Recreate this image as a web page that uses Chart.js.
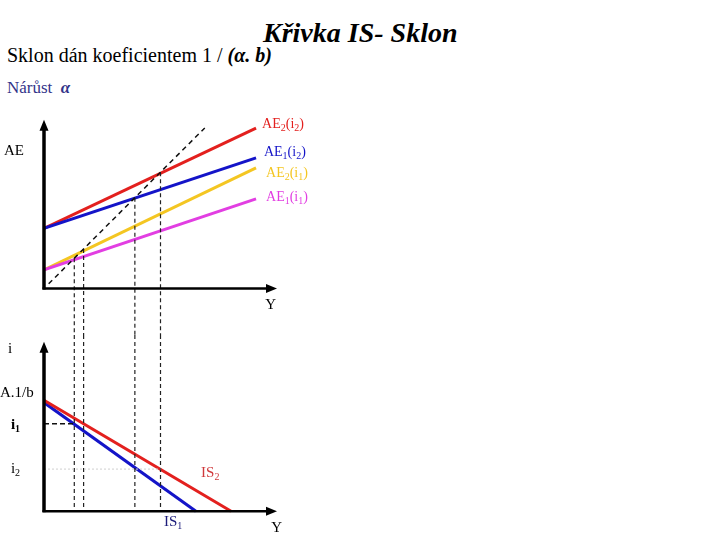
<!DOCTYPE html>
<html>
<head>
<meta charset="utf-8">
<script src="https://cdn.jsdelivr.net/npm/chart.js@4.4.0/dist/chart.umd.min.js"></script>
<style>
    body { margin: 0; width: 720px; height: 540px; background: #fff; position: relative; overflow: hidden;
           font-family: "Liberation Serif", "DejaVu Serif", serif; }
    .t { position: absolute; white-space: nowrap; line-height: 1; }
    canvas { position: absolute; }
</style>
</head>
<body>
<div class="t" style="left:263px;top:19px;font-size:28px;font-weight:bold;font-style:italic;">Křivka IS- Sklon</div>
<div class="t" style="left:7px;top:45px;font-size:20px;">Sklon dán koeficientem 1 / <b><i>(α. b)</i></b></div>
<div class="t" style="left:7px;top:79px;font-size:17px;color:#33338a;">Nárůst&nbsp; <b><i>α</i></b></div>

<canvas id="aeChart" width="330" height="228" style="left:0;top:107px;"></canvas>
<canvas id="isChart" width="330" height="205" style="left:0;top:335px;"></canvas>

<script>
// AE lines: value at Y = 0 and at the right end of each line
var aeNames = ['AE2(i2)', 'AE1(i2)', 'AE2(i1)', 'AE1(i1)'];
var aeAtZero = [25.8, 25.8, 8.0, 8.0];
var aeAtEnd = [68.9, 56.1, 51.8, 38.5];
var aeEndY = 91;

// 45 degree line (AE = Y)
var diagFrom = 2;
var diagTo = 69;

// output levels where AE lines meet the 45 degree line
var equilibriumY = [13, 17, 39, 50];

// IS curves: rate at Y = 0 and output where i = 0
var isNames = ['IS2', 'IS1'];
var isAtZero = [10, 9.8];
var isZeroY = [80.3, 65.2];

// interest rate levels i1, i2
var rateLevels = [7.9, 3.8];

var aeColors = ['#e3201e', '#1414c8', '#f4c622', '#e23ee2'];
var isColors = ['#e3201e', '#1414c8'];

function drawRich(ctx, parts, x, y, size, color, weight) {
    ctx.fillStyle = color;
    ctx.textBaseline = 'middle';
    ctx.textAlign = 'left';
    parts.forEach(function (p) {
        var isSub = p[1] === 1;
        var fs = isSub ? Math.round(size * 0.68) : size;
        ctx.font = (weight || 'normal') + ' ' + fs + 'px "Liberation Serif", serif';
        ctx.fillText(p[0], x, y + (isSub ? size * 0.28 : 0));
        x += ctx.measureText(p[0]).width;
    });
}

// axes with arrowheads plus the text labels
var sketchPlugin = {
    id: 'sketch',
    afterDatasetsDraw: function (chart, args, opts) {
        var ctx = chart.ctx;
        var xs = chart.scales.x, ys = chart.scales.y;
        var x0 = xs.getPixelForValue(0), y0 = ys.getPixelForValue(0);
        var yTip = ys.getPixelForValue(opts.yTip), xTip = xs.getPixelForValue(opts.xTip);
        ctx.save();
        ctx.strokeStyle = '#000';
        ctx.fillStyle = '#000';
        // vertical axis
        ctx.lineWidth = 3.5;
        ctx.beginPath();
        ctx.moveTo(x0, y0 + 1);
        ctx.lineTo(x0, yTip + 8);
        ctx.stroke();
        ctx.beginPath();
        ctx.moveTo(x0, yTip);
        ctx.lineTo(x0 - 4.5, yTip + 11);
        ctx.lineTo(x0 + 4.5, yTip + 11);
        ctx.closePath();
        ctx.fill();
        // horizontal axis
        ctx.lineWidth = 2.5;
        ctx.beginPath();
        ctx.moveTo(x0 - 1.5, y0);
        ctx.lineTo(xTip - 8, y0);
        ctx.stroke();
        ctx.beginPath();
        ctx.moveTo(xTip, y0);
        ctx.lineTo(xTip - 11, y0 - 4.5);
        ctx.lineTo(xTip - 11, y0 + 4.5);
        ctx.closePath();
        ctx.fill();

        opts.labels.forEach(function (l) {
            drawRich(ctx, l.parts, xs.getPixelForValue(l.x), ys.getPixelForValue(l.y),
                l.size, l.color, l.weight);
        });
        ctx.restore();
    }
};

function segment(a, b, color, width, dash) {
    return {
        data: [a, b],
        showLine: true,
        borderColor: color,
        borderWidth: width,
        borderDash: dash || [],
        pointRadius: 0,
        fill: false
    };
}

function baseOptions(yMin, yMax, sketch) {
    return {
        responsive: false,
        animation: false,
        layout: { padding: { left: 44, right: 53, top: 0, bottom: 0 } },
        scales: {
            x: { type: 'linear', min: 0, max: 100, display: false },
            y: { type: 'linear', min: yMin, max: yMax, display: false }
        },
        plugins: { legend: { display: false }, tooltip: { enabled: false }, sketch: sketch }
    };
}

// top panel: AE
var aeDatasets = [];
aeDatasets.push(segment({ x: diagFrom, y: diagFrom }, { x: diagTo, y: diagTo }, '#111', 1.5, [5, 4]));
equilibriumY.forEach(function (v) {
    aeDatasets.push(segment({ x: v, y: v }, { x: v, y: -20 }, '#222', 1.2, [4, 3]));
});
for (var k = aeNames.length - 1; k >= 0; k--) {
    aeDatasets.push(segment({ x: 0, y: aeAtZero[k] }, { x: aeEndY, y: aeAtEnd[k] }, aeColors[k], 3));
}

var aeLabels = [
    { parts: [['AE'], ['2', 1], ['(i'], ['2', 1], [')']], x: 93.6, y: 70.7, size: 14, color: aeColors[0] },
    { parts: [['AE'], ['1', 1], ['(i'], ['2', 1], [')']], x: 94.4, y: 58.4, size: 14, color: aeColors[1] },
    { parts: [['AE'], ['2', 1], ['(i'], ['1', 1], [')']], x: 95.3, y: 49.6, size: 14, color: aeColors[2] },
    { parts: [['AE'], ['1', 1], ['(i'], ['1', 1], [')']], x: 95.3, y: 39.3, size: 14, color: aeColors[3] },
    { parts: [['AE']], x: -17.2, y: 59, size: 15, color: '#000' },
    { parts: [['Y']], x: 95, y: -7.1, size: 15, color: '#000' }
];

new Chart(document.getElementById('aeChart'), {
    type: 'scatter',
    data: { datasets: aeDatasets },
    options: baseOptions(-20, 78, { yTip: 72.5, xTip: 100, labels: aeLabels }),
    plugins: [sketchPlugin]
});

// bottom panel: IS
var isDatasets = [];
isDatasets.push(segment({ x: 0, y: rateLevels[1] }, { x: equilibriumY[3], y: rateLevels[1] }, '#cfcfcf', 1, [2, 2]));
isDatasets.push(segment({ x: 0, y: rateLevels[0] }, { x: equilibriumY[0], y: rateLevels[0] }, '#111', 1.5, [5, 3]));
equilibriumY.forEach(function (v) {
    isDatasets.push(segment({ x: v, y: 15.9 }, { x: v, y: 0 }, '#222', 1.2, [4, 3]));
});
for (var j = 0; j < isNames.length; j++) {
    isDatasets.push(segment({ x: 0, y: isAtZero[j] }, { x: isZeroY[j], y: 0 }, isColors[j], 3));
}

var isLabels = [
    { parts: [['i']], x: -15.5, y: 14.6, size: 15, color: '#000' },
    { parts: [['A.1/b']], x: -18.9, y: 10.7, size: 15, color: '#000' },
    { parts: [['i'], ['1', 1]], x: -14.2, y: 7.8, size: 15, color: '#000', weight: 'bold' },
    { parts: [['i'], ['2', 1]], x: -14.2, y: 3.8, size: 15, color: '#000' },
    { parts: [['IS'], ['2', 1]], x: 67.4, y: 3.4, size: 15, color: '#d0393c' },
    { parts: [['IS'], ['1', 1]], x: 51.5, y: -1.0, size: 15, color: '#1c1c7a' },
    { parts: [['Y']], x: 97.5, y: -1.5, size: 15, color: '#000' }
];

new Chart(document.getElementById('isChart'), {
    type: 'scatter',
    data: { datasets: isDatasets },
    options: baseOptions(-2.6, 15.9, { yTip: 15.3, xTip: 100, labels: isLabels }),
    plugins: [sketchPlugin]
});
</script>
</body>
</html>
